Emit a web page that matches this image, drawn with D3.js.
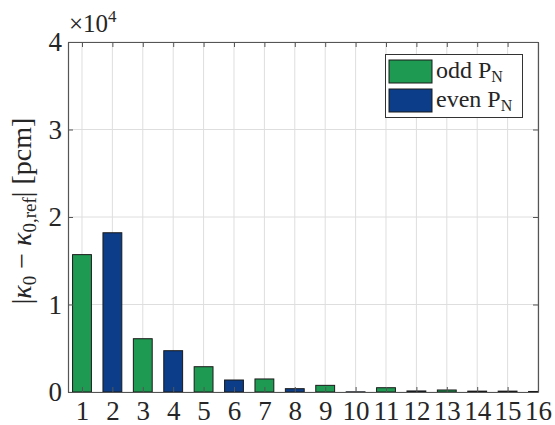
<!DOCTYPE html>
<html>
<head>
<meta charset="utf-8">
<script src="https://cdn.jsdelivr.net/npm/d3@7"></script>
<style>
  html, body { margin: 0; padding: 0; background: #fff; }
</style>
</head>
<body>
<svg id="chart" width="555" height="425"></svg>
<script>
// Harmonic order of the P_N expansion
const orders = [1, 2, 3, 4, 5, 6, 7, 8, 9, 10, 11, 12, 13, 14, 15, 16];
// |kappa_0 - kappa_0,ref| in pcm
const deviation = [15700, 18200, 6090, 4720, 2890, 1370, 1490, 380, 760, 20, 490, 120, 230, 100, 100, 60];
const yTicks = [0, 10000, 20000, 30000, 40000];
const yTickLabels = ["0", "1", "2", "3", "4"];
const seriesNames = ["odd", "even"];
const seriesColors = ["#1f9a52", "#0b3d88"];

const FONT = "Liberation Serif";
const svg = d3.select("#chart");
const m = { left: 68, right: 17, top: 42, bottom: 33 };
const W = 555, H = 425;
const pw = W - m.left - m.right, ph = H - m.top - m.bottom;

const x = d3.scaleLinear().domain([0.54, 16]).range([m.left, m.left + pw]);
const y = d3.scaleLinear().domain([0, 40000]).range([m.top + ph, m.top]);
const barW = (x(2) - x(1)) * 0.62;

svg.append("defs").append("clipPath").attr("id", "plotClip")
  .append("rect").attr("x", m.left).attr("y", m.top).attr("width", pw).attr("height", ph);

// grid
const grid = svg.append("g").attr("stroke", "#dedede").attr("stroke-width", 1);
grid.selectAll(".gx").data(orders).enter().append("line")
  .attr("x1", d => x(d)).attr("x2", d => x(d))
  .attr("y1", m.top).attr("y2", m.top + ph);
grid.selectAll(".gy").data(yTicks).enter().append("line")
  .attr("x1", m.left).attr("x2", m.left + pw)
  .attr("y1", d => y(d)).attr("y2", d => y(d));

// bars
svg.append("g").attr("clip-path", "url(#plotClip)")
  .selectAll("rect").data(orders).enter().append("rect")
  .attr("x", d => x(d) - barW / 2)
  .attr("width", barW)
  .attr("y", (d, i) => y(deviation[i]))
  .attr("height", (d, i) => y(0) - y(deviation[i]))
  .attr("fill", d => seriesColors[d % 2 === 1 ? 0 : 1])
  .attr("stroke", "#1a1a1a").attr("stroke-width", 1);

// axes with inward ticks
const axisColor = "#555";
const tickLen = 5;
const bottomAxis = d3.axisBottom(x).tickValues(orders).tickFormat(d3.format("d")).tickSizeInner(-tickLen).tickSizeOuter(0).tickPadding(9);
const gb = svg.append("g").attr("transform", `translate(0,${m.top + ph})`).call(bottomAxis);
const leftAxis = d3.axisLeft(y).tickValues(yTicks).tickFormat((d, i) => yTickLabels[i]).tickSizeInner(-tickLen).tickSizeOuter(0).tickPadding(6);
const gl = svg.append("g").attr("transform", `translate(${m.left},0)`).call(leftAxis);
const gt = svg.append("g").attr("transform", `translate(0,${m.top})`)
  .call(d3.axisTop(x).tickValues(orders).tickFormat("").tickSizeInner(-tickLen).tickSizeOuter(0));
const gr = svg.append("g").attr("transform", `translate(${m.left + pw},0)`)
  .call(d3.axisRight(y).tickValues(yTicks).tickFormat("").tickSizeInner(-tickLen).tickSizeOuter(0));
[gb, gl, gt, gr].forEach(g => {
  g.attr("font-family", FONT);
  g.select(".domain").attr("stroke", axisColor).attr("stroke-width", 1.2);
  g.selectAll(".tick line").attr("stroke", axisColor);
  g.selectAll(".tick text").attr("font-size", 27).attr("fill", "#262626");
});
gb.selectAll(".tick text").attr("dy", "0.71em");

// exponent label
const exp = svg.append("text").attr("x", m.left + 1).attr("y", 32)
  .attr("font-family", FONT).attr("font-size", 25).attr("fill", "#262626");
exp.append("tspan").text("×10");
exp.append("tspan").attr("dy", -10).attr("font-size", 17).text("4");

// y label
const yl = svg.append("text")
  .attr("transform", `translate(31,${m.top + ph / 2 - 6}) rotate(-90)`)
  .attr("text-anchor", "middle").attr("font-family", FONT).attr("font-size", 28).attr("fill", "#262626");
yl.append("tspan").text("|");
yl.append("tspan").attr("font-style", "italic").text("κ");
yl.append("tspan").attr("dy", 5).attr("font-size", 19).text("0");
yl.append("tspan").attr("dy", -5).text(" − ");
yl.append("tspan").attr("font-style", "italic").text("κ");
yl.append("tspan").attr("dy", 5).attr("font-size", 19).text("0,ref");
yl.append("tspan").attr("dy", -5).text("| [pcm]");

// legend
const lg = svg.append("g").attr("font-family", FONT);
lg.append("rect").attr("x", 385.5).attr("y", 54.5).attr("width", 137).attr("height", 63)
  .attr("fill", "#fff").attr("stroke", "#333").attr("stroke-width", 1);
seriesNames.forEach((name, i) => {
  const yy = 60 + i * 29;
  lg.append("rect").attr("x", 389).attr("y", yy).attr("width", 43).attr("height", 23)
    .attr("fill", seriesColors[i]).attr("stroke", "#1a1a1a").attr("stroke-width", 1);
  const t = lg.append("text").attr("x", 436).attr("y", yy + 18).attr("font-size", 24).attr("fill", "#262626");
  t.append("tspan").text(name + " P");
  t.append("tspan").attr("dy", 4).attr("font-size", 16).text("N");
});
</script>
</body>
</html>
